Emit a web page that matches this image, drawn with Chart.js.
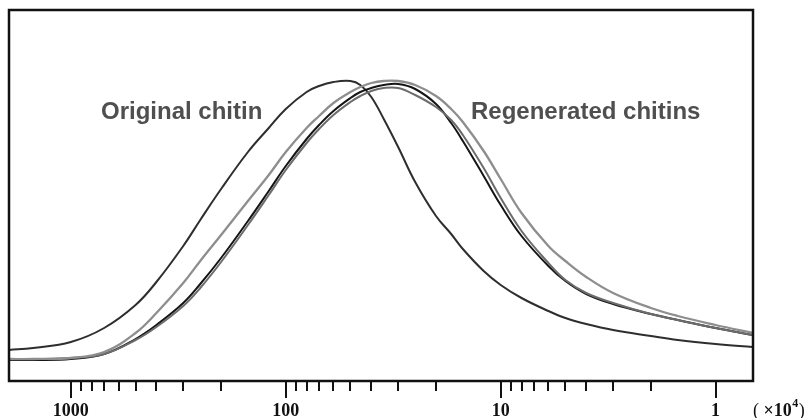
<!DOCTYPE html>
<html>
<head>
<meta charset="utf-8">
<script src="https://cdn.jsdelivr.net/npm/chart.js@4"></script>
<style>
  html, body { margin: 0; padding: 0; background: #fff; }
  #wrap { width: 811px; height: 418px; }
</style>
</head>
<body>
<div id="wrap"><canvas id="gpc" width="811" height="418"></canvas></div>
<script>
// Molecular weight (x 10^4), reversed log axis
const molWeights = [1940, 1500, 1000, 700, 500, 400, 300, 250, 200, 150, 120, 100, 80, 70, 60, 50, 45, 40, 35, 30, 25, 20, 17, 15, 12, 10, 8, 6, 5, 4, 3, 2, 1.5, 1, 0.67];

// Detector response (arbitrary units)
const originalChitin = [31, 33, 39, 53, 76, 99, 135, 161, 192, 229, 253, 272, 289, 295, 299, 300, 296, 284, 262, 234, 199, 165, 147, 132, 110, 96, 83, 70, 63, 57, 51, 45, 41, 37, 34];
const regenA = [22, 22, 23, 29, 48, 68, 98, 120, 146, 180, 206, 229, 253, 265, 278, 289, 294, 298, 300, 300, 296, 285, 272, 259, 230, 202, 168, 135, 120, 104, 88, 73, 65, 56, 48];
const regenB = [21, 21, 22, 27, 42, 56, 78, 97, 123, 160, 190, 215, 242, 256, 270, 283, 289, 293, 296, 297, 292, 277, 258, 240, 205, 176, 145, 115, 100, 87, 77, 67, 61, 53, 46];
const regenC = [22, 22, 23, 27, 41, 54, 75, 93, 119, 156, 186, 211, 238, 252, 266, 279, 285, 290, 293, 293, 286, 274, 261, 246, 213, 183, 150, 118, 101, 88, 78, 67, 61, 53, 46];

const seriesNames = ['Original chitin', 'Regenerated chitin 1', 'Regenerated chitin 2', 'Regenerated chitin 3'];
const seriesColors = ['#2e2e2e', '#8e8e8e', '#151515', '#6c6c6c'];

const majorTicks = [1000, 100, 10, 1];
const tickLabels = ['1000', '100', '10', '1'];

// ── Axis frame, ticks and labels ─────────────────────────

const framePlugin = {
    id: 'frame',
    afterDraw(chart) {
        const { ctx, chartArea: a } = chart;
        const xs = chart.scales.x;
        ctx.save();

        ctx.strokeStyle = '#111';
        ctx.lineWidth = 2.5;
        ctx.strokeRect(a.left, a.top, a.right - a.left, a.bottom - a.top);

        // tick marks under the bottom edge
        ctx.lineWidth = 2;
        majorTicks.forEach(dec => {
            for (let m = 1; m <= 9; m++) {
                const v = dec * m;
                if (v > 1000) break;
                const px = Math.round(xs.getPixelForValue(v));
                const len = m === 1 ? 17 : 10;
                ctx.beginPath();
                ctx.moveTo(px, a.bottom);
                ctx.lineTo(px, a.bottom + len);
                ctx.stroke();
            }
        });

        ctx.fillStyle = '#111';
        ctx.font = 'bold 18px "Liberation Serif", "Times New Roman", serif';
        ctx.textAlign = 'center';
        ctx.textBaseline = 'alphabetic';
        majorTicks.forEach((v, i) => {
            ctx.fillText(tickLabels[i], xs.getPixelForValue(v), 416);
        });

        // unit label: ( ×10^4 )
        ctx.textAlign = 'left';
        let x = a.right;
        ctx.font = '18px "Liberation Serif", serif';
        ctx.fillText('(', x, 416);
        x += ctx.measureText('( ').width;
        ctx.font = 'bold 18px "Liberation Serif", serif';
        ctx.fillText('\u00d710', x, 416);
        x += ctx.measureText('\u00d710').width;
        ctx.font = 'bold 12px "Liberation Serif", serif';
        ctx.fillText('4', x + 0.5, 407);
        x += ctx.measureText('4').width + 1;
        ctx.font = '18px "Liberation Serif", serif';
        ctx.fillText(')', x, 416);

        // curve annotations
        ctx.fillStyle = '#4f4f4f';
        ctx.font = 'bold 24px "Liberation Sans", Arial, sans-serif';
        ctx.fillText('Original chitin', 101, 119);
        ctx.fillText('Regenerated chitins', 471, 119);

        ctx.restore();
    }
};

const curves = [originalChitin, regenA, regenB, regenC];

const datasets = curves.map((vals, i) => ({
    label: seriesNames[i],
    data: molWeights.map((w, j) => ({ x: w, y: vals[j] })),
    borderColor: seriesColors[i],
    borderWidth: i === 1 ? 2.3 : 2,
    pointRadius: 0,
    fill: false,
    tension: 0.4
}));

// draw order: grey curves under the black ones
const order = [1, 3, 2, 0];

new Chart(document.getElementById('gpc'), {
    type: 'line',
    data: { datasets: order.map(i => datasets[i]) },
    plugins: [framePlugin],
    options: {
        responsive: false,
        animation: false,
        layout: { padding: { left: 9, right: 58, top: 10, bottom: 37 } },
        plugins: { legend: { display: false }, tooltip: { enabled: false } },
        scales: {
            x: { type: 'logarithmic', reverse: true, min: 0.67, max: 1940, display: false },
            y: { type: 'linear', min: 0, max: 371, display: false }
        }
    }
});
</script>
</body>
</html>
